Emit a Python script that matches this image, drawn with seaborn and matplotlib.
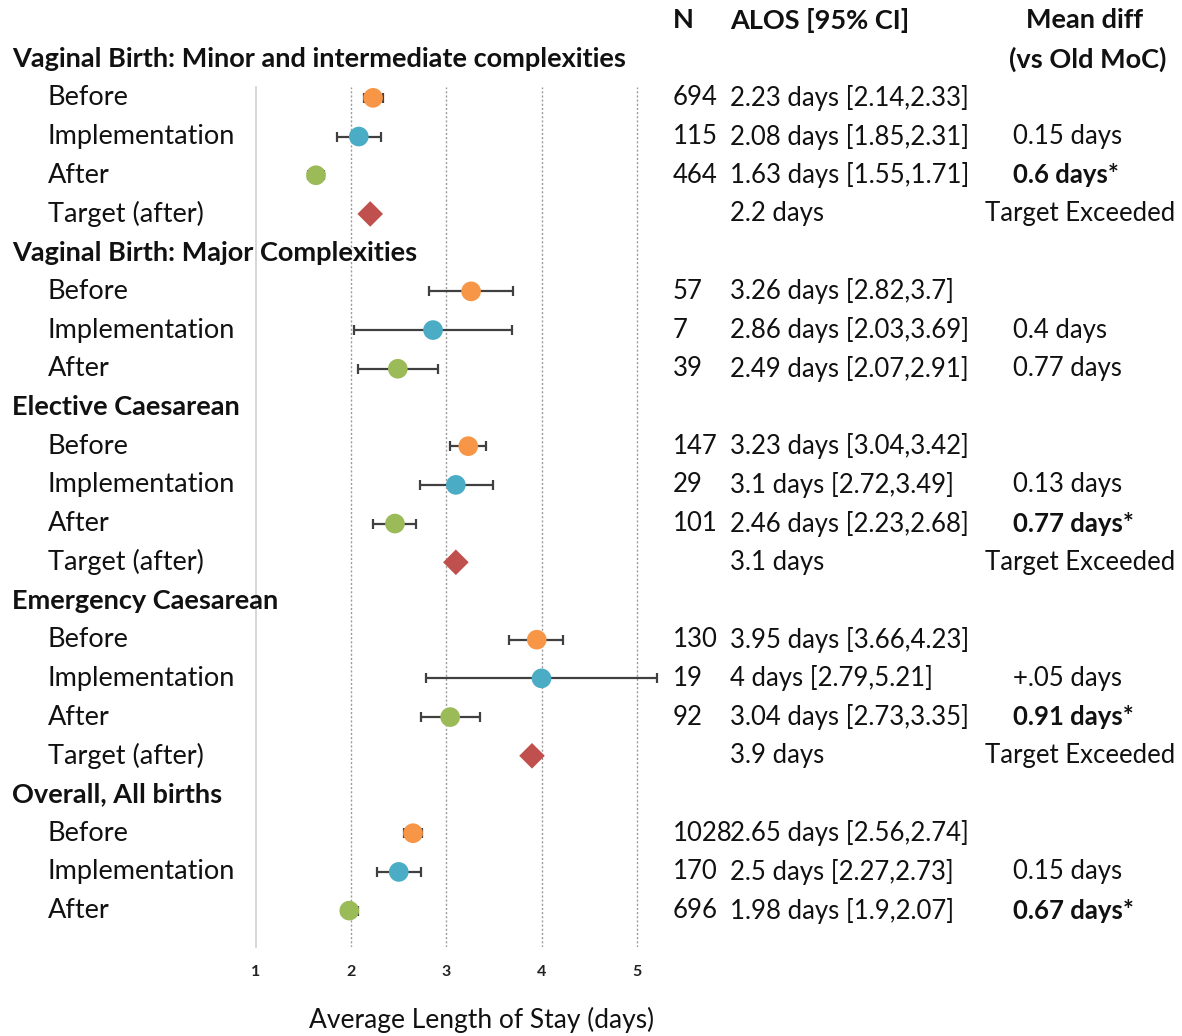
import pandas as pd
import seaborn as sns
import matplotlib.pyplot as plt
from matplotlib import transforms

# Chart data
sections = [
    "Vaginal Birth: Minor and intermediate complexities",
    "Vaginal Birth: Major Complexities",
    "Elective Caesarean",
    "Emergency Caesarean",
    "Overall, All births",
]
section_phases = [
    ["Before", "Implementation", "After", "Target (after)"],
    ["Before", "Implementation", "After"],
    ["Before", "Implementation", "After", "Target (after)"],
    ["Before", "Implementation", "After", "Target (after)"],
    ["Before", "Implementation", "After"],
]
n_counts = [
    [694, 115, 464, None],
    [57, 7, 39],
    [147, 29, 101, None],
    [130, 19, 92, None],
    [1028, 170, 696],
]
alos = [
    [2.23, 2.08, 1.63, 2.2],
    [3.26, 2.86, 2.49],
    [3.23, 3.1, 2.46, 3.1],
    [3.95, 4, 3.04, 3.9],
    [2.65, 2.5, 1.98],
]
ci_low = [
    [2.14, 1.85, 1.55, None],
    [2.82, 2.03, 2.07],
    [3.04, 2.72, 2.23, None],
    [3.66, 2.79, 2.73, None],
    [2.56, 2.27, 1.9],
]
ci_high = [
    [2.33, 2.31, 1.71, None],
    [3.7, 3.69, 2.91],
    [3.42, 3.49, 2.68, None],
    [4.23, 5.21, 3.35, None],
    [2.74, 2.73, 2.07],
]
mean_diff = [
    ["", "0.15 days", "0.6 days*", "Target Exceeded"],
    ["", "0.4 days", "0.77 days"],
    ["", "0.13 days", "0.77 days*", "Target Exceeded"],
    ["", "+.05 days", "0.91 days*", "Target Exceeded"],
    ["", "0.15 days", "0.67 days*"],
]
phase_colors = {"Before": "#F79646", "Implementation": "#4BACC6",
                "After": "#9BBB59", "Target (after)": "#C0504D"}

# build long table, one row per line of the chart
rows = []
headers = []
r = 0
for s, sec in enumerate(sections):
    headers.append((r, sec))
    r += 1
    for k, ph in enumerate(section_phases[s]):
        rows.append(dict(row=r, phase=ph, n=n_counts[s][k], alos=alos[s][k],
                         lo=ci_low[s][k], hi=ci_high[s][k], diff=mean_diff[s][k]))
        r += 1
df = pd.DataFrame(rows)

sns.set_theme(style="white")
plt.rcParams["font.family"] = ["Lato", "DejaVu Sans"]
TXT = "#111111"
FS = 19.5      # row labels / headers
FT = 18.5      # table text

fig = plt.figure(figsize=(11.82, 10.36), dpi=100)
W, H = 1182, 1036
ax_l, ax_r, ax_t, ax_b = 256, 670, 87, 947
ax = fig.add_axes([ax_l / W, (H - ax_b) / H, (ax_r - ax_l) / W, (ax_b - ax_t) / H])

# confidence intervals
ci = df.dropna(subset=["lo"])
ax.errorbar(ci["alos"], ci["row"],
            xerr=[ci["alos"] - ci["lo"], ci["hi"] - ci["alos"]],
            fmt="none", ecolor="#404040", elinewidth=1.6, capsize=3.5,
            capthick=1.6, zorder=2)

sns.scatterplot(data=df, x="alos", y="row", hue="phase", style="phase",
                size="phase", palette=phase_colors,
                markers={"Before": "o", "Implementation": "o", "After": "o", "Target (after)": "D"},
                sizes={"Before": 200, "Implementation": 200, "After": 200, "Target (after)": 170},
                edgecolor="none", linewidth=0, legend=False, zorder=3, ax=ax)

ax.set_xlim(1, 5.35)
ax.set_ylim(22.94, 0.72)
for v in [2, 3, 4, 5]:
    ax.axvline(v, color="#9a9a9a", lw=1, ls=(0, (1.5, 1.5)), zorder=1)
for sp in ["top", "right", "bottom"]:
    ax.spines[sp].set_visible(False)
ax.spines["left"].set_color("#cfcfcf")
ax.spines["left"].set_linewidth(1.2)
ax.set_yticks([])
ax.set_xticks([1, 2, 3, 4, 5])
ax.tick_params(axis="x", length=0, pad=13, labelsize=11.5, labelcolor="#222222")
for lab in ax.get_xticklabels():
    lab.set_fontweight("bold")
ax.set_xlabel("Average Length of Stay (days)", fontsize=19, color=TXT)
ax.xaxis.label.set_verticalalignment("center")
ax.xaxis.set_label_coords((482 - ax_l) / (ax_r - ax_l), -(1020 - ax_b) / (ax_b - ax_t))
ax.set_ylabel("")

# text columns (x in figure pixels, y in data rows)
tr = transforms.blended_transform_factory(fig.transFigure, ax.transData)
def px(x):
    return x / W

for row, sec in headers:
    ax.text(px(12), row, sec, transform=tr, fontsize=FS, fontweight="bold",
            color=TXT, va="center", ha="left")

for _, d in df.iterrows():
    ax.text(px(48), d["row"], d["phase"], transform=tr, fontsize=FS,
            color=TXT, va="center", ha="left")
    if pd.notna(d["n"]):
        ax.text(px(673), d["row"], f"{int(d['n'])}", transform=tr, fontsize=FT,
                color=TXT, va="center", ha="left")
        ax.text(px(730), d["row"], f"{d['alos']:g} days [{d['lo']:g},{d['hi']:g}]",
                transform=tr, fontsize=FT, color=TXT, va="center", ha="left")
    else:
        ax.text(px(730), d["row"], f"{d['alos']:g} days", transform=tr,
                fontsize=FT, color=TXT, va="center", ha="left")
    if d["diff"]:
        bold = d["diff"].endswith("*")
        xpos = 985 if d["diff"].startswith("Target") else 1013
        ax.text(px(xpos), d["row"], d["diff"], transform=tr, fontsize=FT,
                fontweight="bold" if bold else "normal", color=TXT,
                va="center", ha="left")

ax.text(px(673), -1, "N", transform=tr, fontsize=FS, fontweight="bold", color=TXT, va="center")
ax.text(px(730), -1, "ALOS [95% CI]", transform=tr, fontsize=FS, fontweight="bold", color=TXT, va="center")
ax.text(px(1085), -1, "Mean diff", transform=tr, fontsize=FS, fontweight="bold", color=TXT, va="center", ha="center")
ax.text(px(1088), 0, "(vs Old MoC)", transform=tr, fontsize=FS, fontweight="bold", color=TXT, va="center", ha="center")

fig.savefig("out.png", dpi=100, facecolor="white")
